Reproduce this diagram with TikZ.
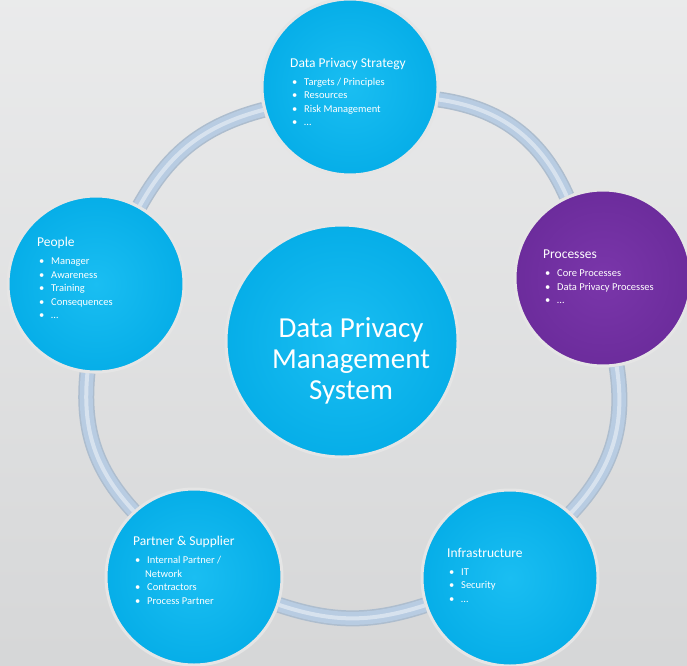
\documentclass[tikz,border=0pt]{standalone}
\usepackage{fontspec}
\setmainfont{Carlito}
\usetikzlibrary{backgrounds}

\definecolor{dpcyan}{HTML}{1ABEF2}
\definecolor{dpcyandark}{HTML}{06AEE8}
\definecolor{dppurple}{HTML}{7A36AA}
\definecolor{dppurpledark}{HTML}{6C2C9C}
\definecolor{dptube}{HTML}{B8CCE2}
\definecolor{dpbg}{HTML}{E1E2E3}

\newcommand{\dpbullet}{\makebox[14pt][l]{\hspace{2pt}\textbullet}}
\newcommand{\dptitle}[1]{{\fontsize{13.5}{13.5}\selectfont #1}}

\begin{document}
\begin{tikzpicture}[x=1pt,y=1pt,
    ball/.style={circle, minimum size=176pt, inner sep=0pt,
        draw=white!80!gray, line width=3pt,
        inner color=dpcyan, outer color=dpcyandark},
    purpleball/.style={ball, inner color=dppurple, outer color=dppurpledark},
    bigball/.style={ball, minimum size=232pt},
    txt/.style={anchor=north west, inner sep=0pt, align=left, text=white,
        font=\fontsize{10.5}{13.5}\selectfont},
    tube/.style={draw=dptube!80!gray, line width=16pt,
        postaction={draw=dptube, line width=13pt},
        postaction={draw=dptube!45!white, line width=4pt, opacity=.8}}]
    \useasboundingbox (0,0) rectangle (687,665);

    \node[ball] (strategy) at (350,578) {};
    \node[purpleball] (processes) at (603,387) {};
    \node[ball] (infra) at (510,87) {};
    \node[ball] (partner) at (194,88) {};
    \node[ball] (people) at (96,381) {};
    \node[bigball] (dpms) at (342,324) {};

    \node[txt] (strategytxt) at (290,607) {\dptitle{Data Privacy Strategy}\\[4.5pt]
        \dpbullet Targets / Principles\\ \dpbullet Resources\\
        \dpbullet Risk Management\\ \dpbullet \ldots};
    \node[txt] (processestxt) at (543,415) {\dptitle{Processes}\\[4.5pt]
        \dpbullet Core Processes\\ \dpbullet Data Privacy Processes\\ \dpbullet \ldots};
    \node[txt] (infratxt) at (447,117) {\dptitle{Infrastructure}\\[4.5pt]
        \dpbullet IT\\ \dpbullet Security\\ \dpbullet \ldots};
    \node[txt] (partnertxt) at (133,129) {\dptitle{Partner \& Supplier}\\[4.5pt]
        \dpbullet Internal Partner /\\ \hspace*{12pt}Network\\
        \dpbullet Contractors\\ \dpbullet Process Partner};
    \node[txt] (peopletxt) at (37,428) {\dptitle{People}\\[4.5pt]
        \dpbullet Manager\\ \dpbullet Awareness\\ \dpbullet Training\\
        \dpbullet Consequences\\ \dpbullet \ldots};
    \node[align=center, text=white, font=\fontsize{29}{31}\selectfont] (dpmstxt)
        at (351,304) {Data Privacy\\Management\\System};

    \begin{pgfonlayer}{background}
        \fill[top color=dpbg!70!white, bottom color=dpbg!95!black] (0,0) rectangle (687,665);
        \draw[tube] (strategy) to[bend left=29] (processes);
        \draw[tube] (processes) to[bend left=26] (infra);
        \draw[tube] (infra) to[bend left=18] (partner);
        \draw[tube] (partner) to[bend left=24] (people);
        \draw[tube] (people) to[bend left=23] (strategy);
    \end{pgfonlayer}
\end{tikzpicture}
\end{document}
